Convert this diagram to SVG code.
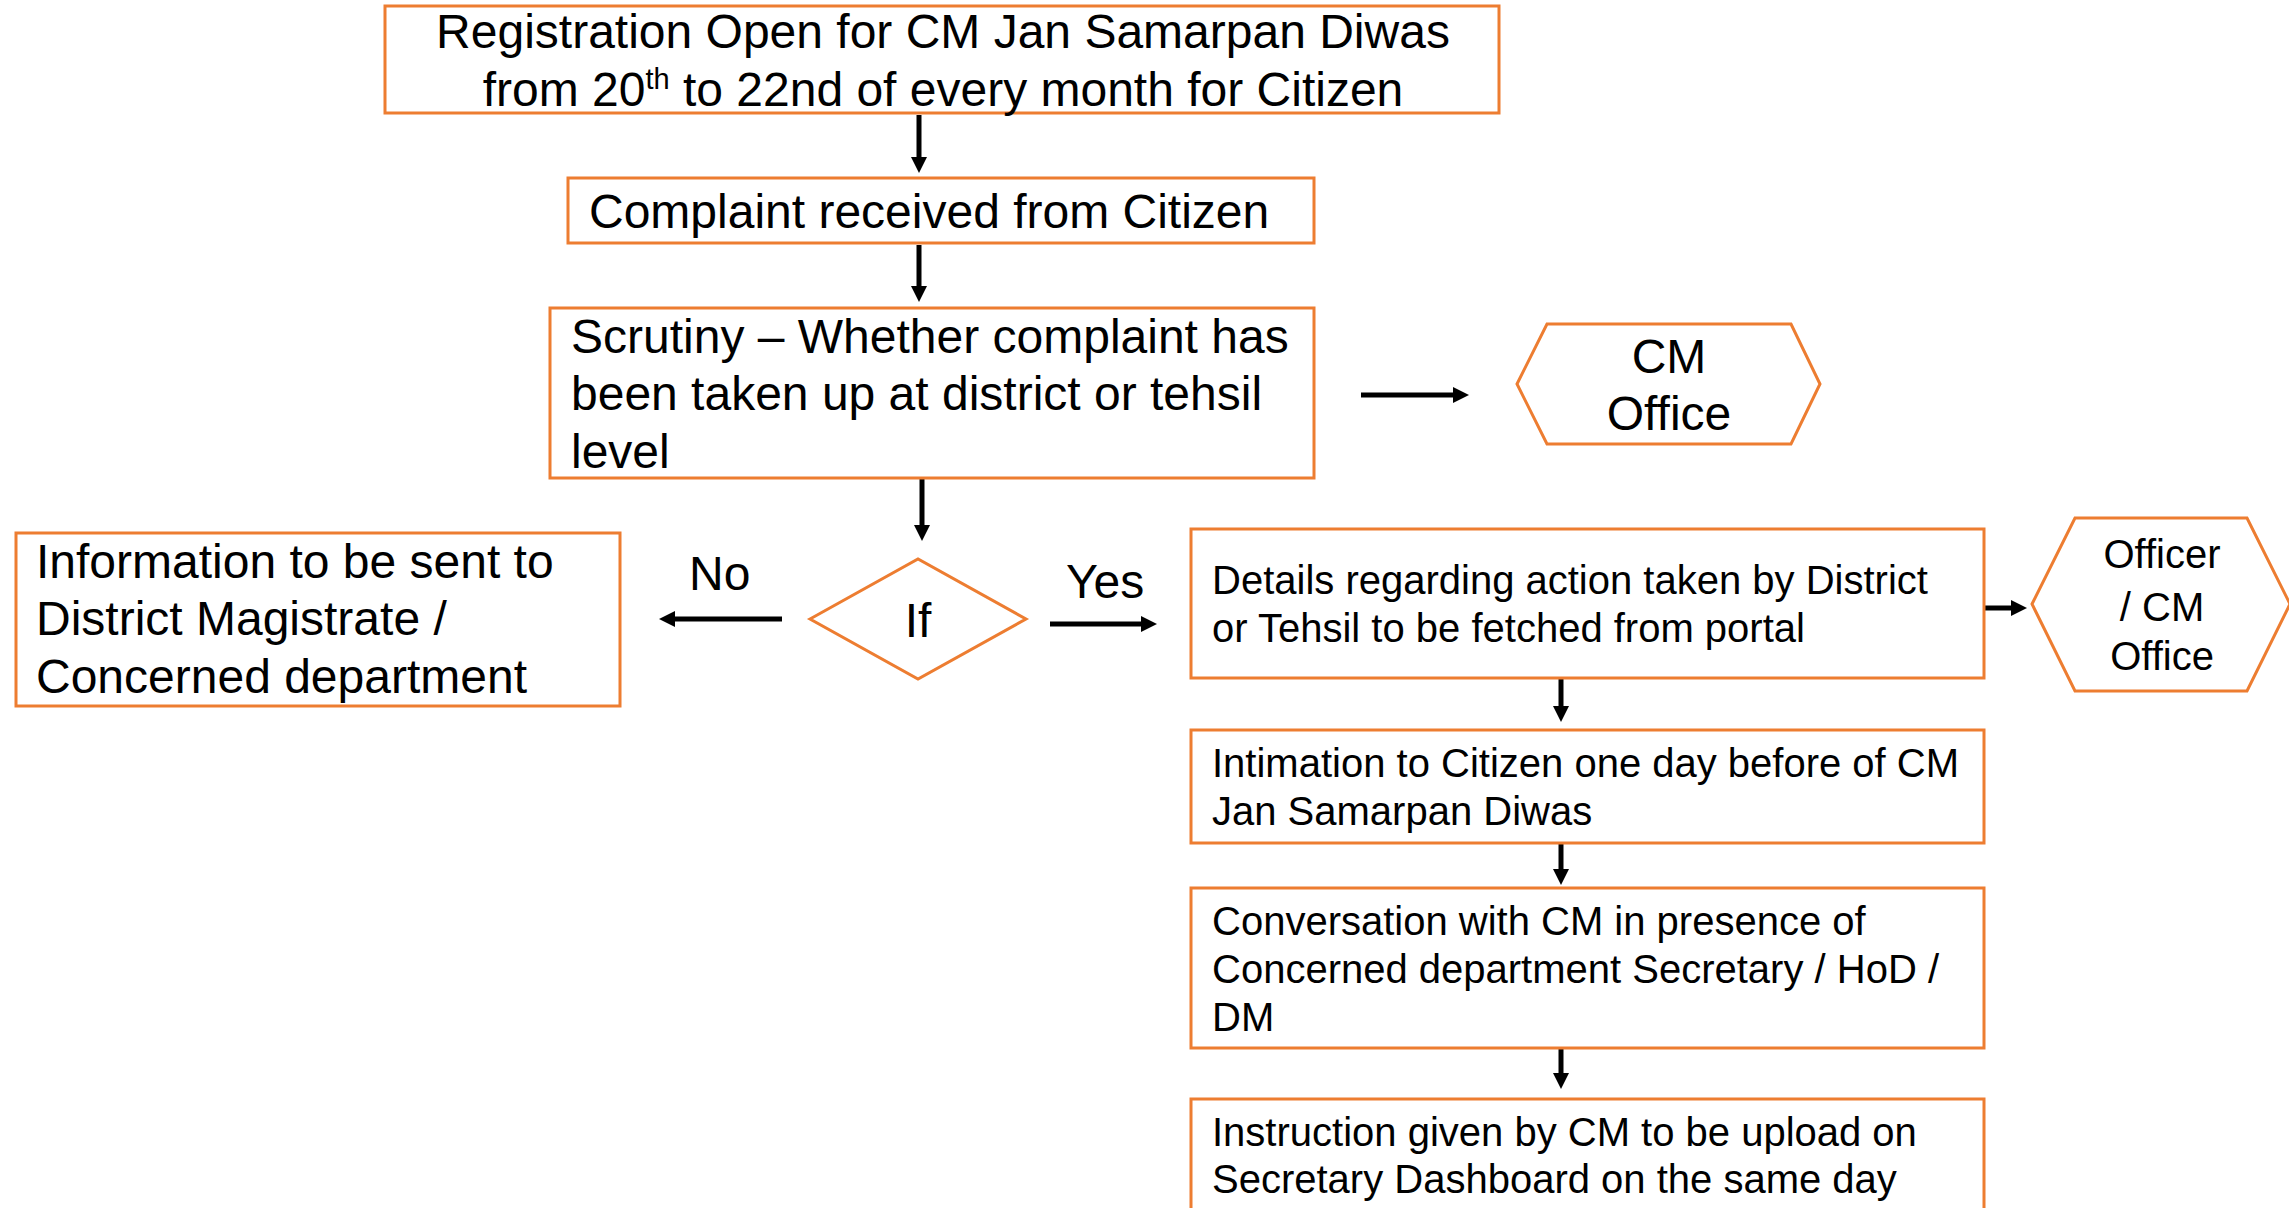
<svg xmlns="http://www.w3.org/2000/svg" width="2289" height="1208" viewBox="0 0 2289 1208">
<style>
.box{fill:#FFFFFF;stroke:#ED7D31;stroke-width:3}
.t{font-family:"Liberation Sans",Arial,sans-serif;font-size:48px;fill:#000000}
.s{font-family:"Liberation Sans",Arial,sans-serif;font-size:40px;fill:#000000}
.c{text-anchor:middle}
.ln{stroke:#000000;stroke-width:5;fill:none;marker-end:url(#ah)}
</style>
<defs>
<marker id="ah" markerUnits="userSpaceOnUse" markerWidth="16" markerHeight="16" refX="1" refY="8" orient="auto" viewBox="0 0 16 16">
<path d="M0,0 L16,8 L0,16 Z" fill="#000000"/>
</marker>
</defs>
<rect width="2289" height="1208" fill="#FFFFFF"/>
<g id="connectors">
<line class="ln" x1="919" y1="115" x2="919" y2="158"/>
<line class="ln" x1="919" y1="245" x2="919" y2="287"/>
<line class="ln" x1="922" y1="479" x2="922" y2="526"/>
<line class="ln" x1="1361" y1="395" x2="1454" y2="395"/>
<line class="ln" x1="782" y1="619" x2="674" y2="619"/>
<line class="ln" x1="1050" y1="624" x2="1142" y2="624"/>
<line class="ln" x1="1984" y1="608" x2="2012" y2="608"/>
<line class="ln" x1="1561" y1="679" x2="1561" y2="707"/>
<line class="ln" x1="1561" y1="844" x2="1561" y2="870"/>
<line class="ln" x1="1561" y1="1049" x2="1561" y2="1074"/>
<text class="t" x="689" y="590">No</text>
<text class="t" x="1066" y="598">Yes</text>
</g>
<g id="registration">
<rect class="box" x="385" y="6" width="1114" height="107"/>
<text class="t c" x="943" y="48">Registration Open for CM Jan Samarpan Diwas</text>
<text class="t c" x="943" y="106">from 20<tspan font-size="29" dy="-17">th</tspan><tspan dy="17"> to 22nd of every month for Citizen</tspan></text>
</g>
<g id="complaint">
<rect class="box" x="568" y="178" width="746" height="65"/>
<text class="t" x="589" y="228">Complaint received from Citizen</text>
</g>
<g id="scrutiny">
<rect class="box" x="550" y="308" width="764" height="170"/>
<text class="t" x="571" y="353">Scrutiny – Whether complaint has</text>
<text class="t" x="571" y="410">been taken up at district or tehsil</text>
<text class="t" x="571" y="468">level</text>
</g>
<g id="cm-office">
<polygon class="box" points="1517,384 1547,324 1791,324 1820,384 1791,444 1547,444"/>
<text class="t c" x="1669" y="373">CM</text>
<text class="t c" x="1669" y="430">Office</text>
</g>
<g id="decision">
<polygon class="box" points="810,619 918,559 1026,619 918,679"/>
<text class="t c" x="918" y="637">If</text>
</g>
<g id="information">
<rect class="box" x="16" y="533" width="604" height="173"/>
<text class="t" x="36" y="578">Information to be sent to</text>
<text class="t" x="36" y="635">District Magistrate /</text>
<text class="t" x="36" y="693">Concerned department</text>
</g>
<g id="details">
<rect class="box" x="1191" y="529" width="793" height="149"/>
<text class="s" x="1212" y="594">Details regarding action taken by District</text>
<text class="s" x="1212" y="642">or Tehsil to be fetched from portal</text>
</g>
<g id="officer-cm-office">
<polygon class="box" points="2032,604 2075,518 2247,518 2290,604 2247,691 2075,691"/>
<text class="s c" x="2162" y="568">Officer</text>
<text class="s c" x="2162" y="621">/ CM</text>
<text class="s c" x="2162" y="670">Office</text>
</g>
<g id="intimation">
<rect class="box" x="1191" y="730" width="793" height="113"/>
<text class="s" x="1212" y="777">Intimation to Citizen one day before of CM</text>
<text class="s" x="1212" y="825">Jan Samarpan Diwas</text>
</g>
<g id="conversation">
<rect class="box" x="1191" y="888" width="793" height="160"/>
<text class="s" x="1212" y="935">Conversation with CM in presence of</text>
<text class="s" x="1212" y="983">Concerned department Secretary / HoD /</text>
<text class="s" x="1212" y="1031">DM</text>
</g>
<g id="instruction">
<rect class="box" x="1191" y="1099" width="793" height="140"/>
<text class="s" x="1212" y="1146">Instruction given by CM to be upload on</text>
<text class="s" x="1212" y="1193">Secretary Dashboard on the same day</text>
</g>
</svg>
